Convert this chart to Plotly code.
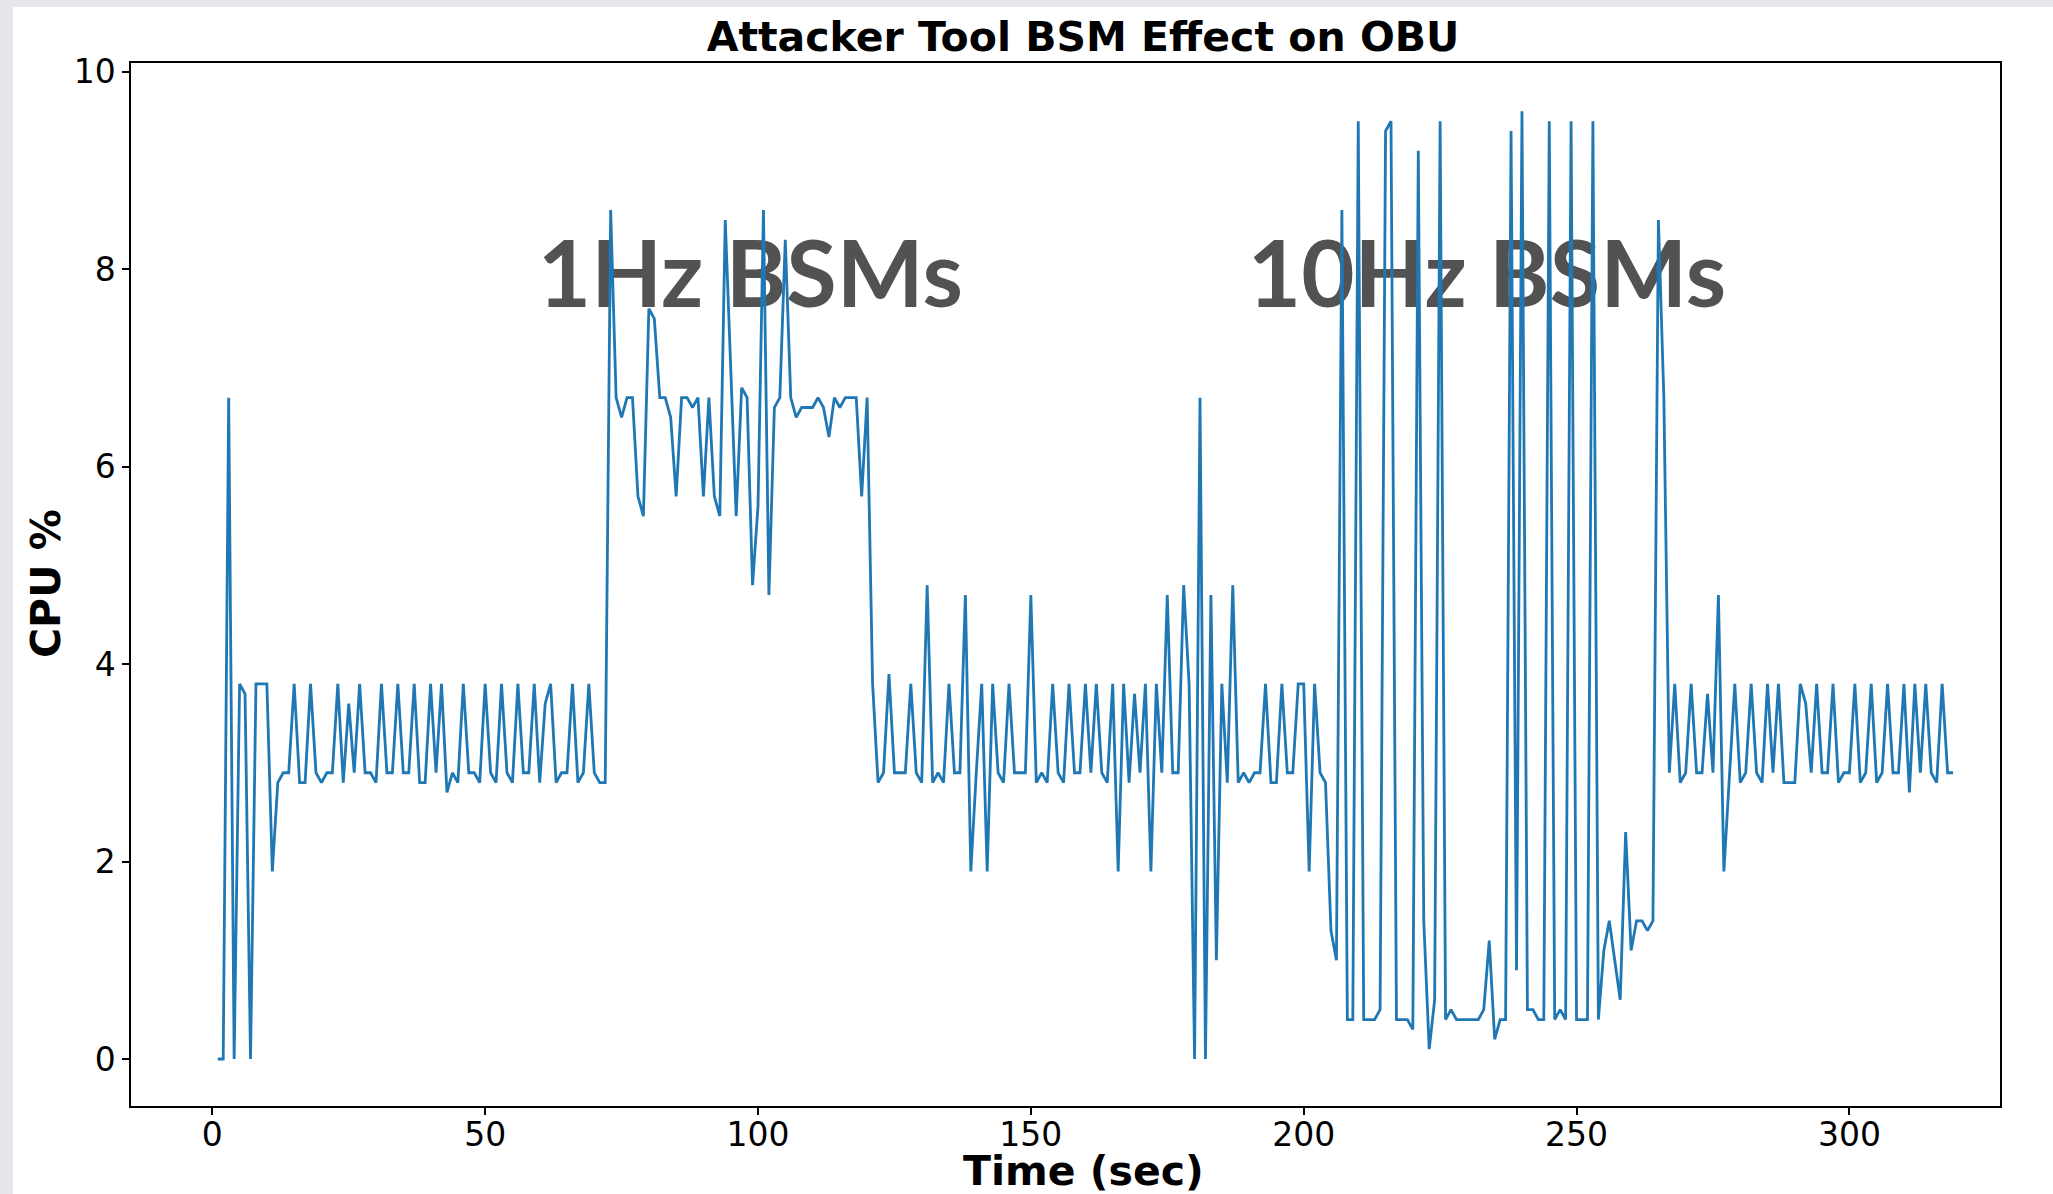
import plotly.graph_objects as go

# ---- data ----
time_sec = list(range(1, 320))
cpu_pct = [
    0, 0, 6.7, 0, 3.8, 3.7, 0, 3.8, 3.8, 3.8,
    1.9, 2.8, 2.9, 2.9, 3.8, 2.8, 2.8, 3.8, 2.9, 2.8,
    2.9, 2.9, 3.8, 2.8, 3.6, 2.9, 3.8, 2.9, 2.9, 2.8,
    3.8, 2.9, 2.9, 3.8, 2.9, 2.9, 3.8, 2.8, 2.8, 3.8,
    2.9, 3.8, 2.7, 2.9, 2.8, 3.8, 2.9, 2.9, 2.8, 3.8,
    2.9, 2.8, 3.8, 2.9, 2.8, 3.8, 2.9, 2.9, 3.8, 2.8,
    3.6, 3.8, 2.8, 2.9, 2.9, 3.8, 2.8, 2.9, 3.8, 2.9,
    2.8, 2.8, 8.6, 6.7, 6.5, 6.7, 6.7, 5.7, 5.5, 7.6,
    7.5, 6.7, 6.7, 6.5, 5.7, 6.7, 6.7, 6.6, 6.7, 5.7,
    6.7, 5.7, 5.5, 8.5, 7.0, 5.5, 6.8, 6.7, 4.8, 5.6,
    8.6, 4.7, 6.6, 6.7, 8.3, 6.7, 6.5, 6.6, 6.6, 6.6,
    6.7, 6.6, 6.3, 6.7, 6.6, 6.7, 6.7, 6.7, 5.7, 6.7,
    3.8, 2.8, 2.9, 3.9, 2.9, 2.9, 2.9, 3.8, 2.9, 2.8,
    4.8, 2.8, 2.9, 2.8, 3.8, 2.9, 2.9, 4.7, 1.9, 2.9,
    3.8, 1.9, 3.8, 2.9, 2.8, 3.8, 2.9, 2.9, 2.9, 4.7,
    2.8, 2.9, 2.8, 3.8, 2.9, 2.8, 3.8, 2.9, 2.9, 3.8,
    2.9, 3.8, 2.9, 2.8, 3.8, 1.9, 3.8, 2.8, 3.7, 2.9,
    3.8, 1.9, 3.8, 2.9, 4.7, 2.9, 2.9, 4.8, 3.8, 0,
    6.7, 0, 4.7, 1.0, 3.8, 2.8, 4.8, 2.8, 2.9, 2.8,
    2.9, 2.9, 3.8, 2.8, 2.8, 3.8, 2.9, 2.9, 3.8, 3.8,
    1.9, 3.8, 2.9, 2.8, 1.3, 1.0, 8.6, 0.4, 0.4, 9.5,
    0.4, 0.4, 0.4, 0.5, 9.4, 9.5, 0.4, 0.4, 0.4, 0.3,
    9.2, 1.4, 0.1, 0.6, 9.5, 0.4, 0.5, 0.4, 0.4, 0.4,
    0.4, 0.4, 0.5, 1.2, 0.2, 0.4, 0.4, 9.4, 0.9, 9.6,
    0.5, 0.5, 0.4, 0.4, 9.5, 0.4, 0.5, 0.4, 9.5, 0.4,
    0.4, 0.4, 9.5, 0.4, 1.1, 1.4, 1.0, 0.6, 2.3, 1.1,
    1.4, 1.4, 1.3, 1.4, 8.5, 6.7, 2.9, 3.8, 2.8, 2.9,
    3.8, 2.9, 2.9, 3.7, 2.9, 4.7, 1.9, 2.8, 3.8, 2.8,
    2.9, 3.8, 2.9, 2.8, 3.8, 2.9, 3.8, 2.8, 2.8, 2.8,
    3.8, 3.6, 2.9, 3.8, 2.9, 2.9, 3.8, 2.8, 2.9, 2.9,
    3.8, 2.8, 2.9, 3.8, 2.8, 2.9, 3.8, 2.9, 2.9, 3.8,
    2.7, 3.8, 2.9, 3.8, 2.9, 2.8, 3.8, 2.9, 2.9,
]
x_ticks = [0, 50, 100, 150, 200, 250, 300]
y_ticks = [0, 2, 4, 6, 8, 10]
phase_labels = ["1Hz BSMs", "10Hz BSMs"]
phase_label_x = [98.6, 233.6]
phase_label_y = [7.85, 7.85]

title_text = "Attacker Tool BSM Effect on OBU"
x_title = "Time (sec)"
y_title = "CPU %"

# ---- layout geometry (pixels) ----
W, H = 2053, 1194
L, R, T, B = 131, 53, 63, 88
pw, ph = W - L - R, H - T - B


def px_x(p):
    return (p - L) / pw


def px_y(p):
    return (H - B - p) / ph


fig = go.Figure()

fig.add_trace(go.Scatter(
    x=phase_label_x, y=phase_label_y, mode="text", text=phase_labels,
    textposition="middle center",
    textfont=dict(family="Lato", size=92, color="#525252", weight="bold"),
    hoverinfo="skip", showlegend=False,
))

fig.add_trace(go.Scatter(
    x=time_sec, y=cpu_pct, mode="lines",
    line=dict(color="#1f77b4", width=2.8),
    showlegend=False,
))

axis_common = dict(
    showgrid=False, zeroline=False,
    showline=True, linecolor="black", linewidth=1.5, mirror=True,
    ticks="outside", ticklen=7, tickwidth=1.5, tickcolor="black",
    tickfont=dict(family="DejaVu Sans", size=33, color="black"),
)

fig.update_xaxes(range=[-14.9, 327.6], tickvals=x_ticks,
                 ticklabelstandoff=-8, **axis_common)
fig.update_yaxes(range=[-0.476, 10.09], tickvals=y_ticks, **axis_common)

gray = "#e5e7eb"
shapes = [
    dict(type="rect", xref="paper", yref="paper",
         x0=px_x(0), x1=px_x(13), y0=px_y(H), y1=px_y(0),
         fillcolor=gray, line=dict(width=0), layer="below"),
    dict(type="rect", xref="paper", yref="paper",
         x0=px_x(0), x1=px_x(W), y0=px_y(7), y1=px_y(0),
         fillcolor=gray, line=dict(width=0), layer="below"),
]

annotations = [
    dict(text="<b>" + x_title + "</b>", xref="paper", yref="paper",
         x=px_x(1083), y=px_y(1171), xanchor="center", yanchor="middle",
         showarrow=False, font=dict(family="DejaVu Sans", size=41, color="black")),
    dict(text="<b>" + y_title + "</b>", xref="paper", yref="paper",
         x=px_x(46), y=px_y(584), xanchor="center", yanchor="middle",
         textangle=-90, showarrow=False,
         font=dict(family="DejaVu Sans", size=41, color="black")),
]

fig.update_layout(
    width=W, height=H,
    margin=dict(l=L, r=R, t=T, b=B),
    paper_bgcolor="white", plot_bgcolor="white",
    title=dict(text="<b>" + title_text + "</b>", x=1083 / W, xanchor="center",
               y=1 - 37 / H, yanchor="middle", yref="container",
               font=dict(family="DejaVu Sans", size=41, color="black")),
    shapes=shapes, annotations=annotations,
)

fig.write_html(
    "out.html",
    config={"displayModeBar": False},
    post_script="document.body.style.margin='0';document.body.style.overflow='hidden';"
                "document.documentElement.style.overflow='hidden';",
)
